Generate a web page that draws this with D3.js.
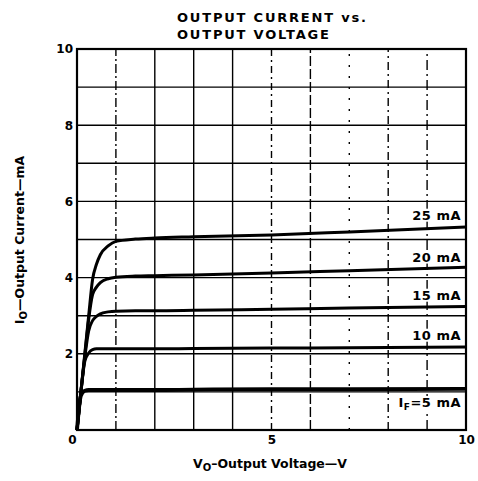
<!DOCTYPE html>
<html>
<head>
<meta charset="utf-8">
<script src="https://cdnjs.cloudflare.com/ajax/libs/d3/7.8.5/d3.min.js"></script>
<style>
  body { margin: 0; background: #fff; }
  svg { display: block; }
  text { font-family: "DejaVu Sans", "Liberation Sans", sans-serif; fill: #000; }
  .grid line { stroke: #000; stroke-width: 1.4px; }
  .curve { fill: none; stroke: #000; stroke-width: 3px; }
  .tick text { font-size: 12px; font-weight: bold; }
</style>
</head>
<body>
<div id="chart"></div>
<script>
// forward current settings (curve labels)
const forwardCurrents = ["25 mA", "20 mA", "15 mA", "10 mA", "5 mA"];

// output voltage sample points (V)
const voltage = [0, 0.1, 0.2, 0.3, 0.4, 0.5, 0.6, 0.8, 1.0, 1.5, 2, 3, 5, 7, 10];

// output current (mA) at the voltages above
const io25 = [0, 1.0, 2.0, 3.0, 3.95, 4.35, 4.6, 4.83, 4.95, 5.01, 5.04, 5.07, 5.12, 5.2, 5.33];
const io20 = [0, 1.0, 1.95, 2.9, 3.55, 3.75, 3.87, 3.97, 4.01, 4.04, 4.05, 4.07, 4.12, 4.18, 4.27];
const io15 = [0, 1.0, 1.9, 2.6, 2.87, 2.98, 3.05, 3.1, 3.12, 3.13, 3.13, 3.14, 3.17, 3.2, 3.24];
const io10 = [0, 0.98, 1.8, 2.02, 2.11, 2.13, 2.13, 2.13, 2.13, 2.13, 2.13, 2.14, 2.15, 2.16, 2.18];
const io5  = [0, 0.9, 1.03, 1.05, 1.05, 1.05, 1.05, 1.05, 1.05, 1.05, 1.05, 1.06, 1.07, 1.07, 1.08];

// where each curve label sits (mA, at the right edge)
const labelAt = [5.52, 4.42, 3.42, 2.37, 0.6];

const xTicks = [0, 5, 10];
const yTicks = [2, 4, 6, 8, 10];
const gridX = [1, 2, 3, 4, 5, 6, 7, 8, 9];
const gridY = [1, 2, 3, 4, 5, 6, 7, 8, 9];

const W = 478, H = 481;
const svg = d3.select('#chart').append('svg').attr('width', W).attr('height', H);

const x = d3.scaleLinear().domain([0, 10]).range([77, 466]);
const y = d3.scaleLinear().domain([0, 10]).range([430, 49]);

// title
const title = svg.append('text')
    .attr('x', 177).attr('y', 22)
    .style('font-size', '13px').style('font-weight', 'bold')
    .style('letter-spacing', '1.8px');
title.append('tspan').attr('x', 177).text('OUTPUT CURRENT vs.');
title.append('tspan').attr('x', 177).attr('dy', 17).text('OUTPUT VOLTAGE');

// grid
const dashFor = {1: '9,3,2,3', 5: '7,4,2,4', 6: '10,3', 7: '2,9', 8: '8,4,2,4', 9: '10,4,2,4'};
const grid = svg.append('g').attr('class', 'grid');
grid.selectAll('line.gx').data(gridX).join('line')
    .attr('class', 'gx')
    .attr('x1', d => x(d)).attr('x2', d => x(d))
    .attr('y1', y(0)).attr('y2', y(10))
    .style('stroke-dasharray', d => dashFor[d] || null);
grid.selectAll('line.gy').data(gridY).join('line')
    .attr('class', 'gy')
    .attr('x1', x(0)).attr('x2', x(10))
    .attr('y1', d => y(d)).attr('y2', d => y(d));

// curves
const series = [io25, io20, io15, io10, io5];
const line = d3.line()
    .x((d, i) => x(voltage[i]))
    .y(d => y(d))
    .curve(d3.curveMonotoneX);
svg.append('g').selectAll('path').data(series).join('path')
    .attr('class', 'curve')
    .attr('d', line)
    .style('stroke-width', (d, i) => i === 4 ? 3.8 : 3);

// curve labels on white patches
const labels = svg.append('g');
forwardCurrents.forEach((lab, i) => {
    const yy = y(labelAt[i]);
    const t = labels.append('text')
        .attr('x', 461).attr('y', yy)
        .attr('text-anchor', 'end')
        .style('font-size', '13px').style('font-weight', 'bold')
        .style('letter-spacing', '0.5px');
    if (i === 4) {
        t.append('tspan').text('I');
        t.append('tspan').attr('dy', 3).style('font-size', '9px').text('F');
        t.append('tspan').attr('dy', -3).text('=5 mA');
    } else {
        t.text(lab);
    }
    const b = t.node().getBBox();
    labels.insert('rect', 'text')
        .attr('x', b.x - 3).attr('y', b.y + 1)
        .attr('width', b.width + 5).attr('height', b.height - 2)
        .attr('fill', '#fff');
});

// frame
svg.append('rect')
    .attr('x', x(0)).attr('y', y(10))
    .attr('width', x(10) - x(0)).attr('height', y(0) - y(10))
    .attr('fill', 'none').attr('stroke', '#000').attr('stroke-width', 2.2);

// axes
const xAxis = svg.append('g')
    .attr('transform', `translate(0,${y(0)})`)
    .call(d3.axisBottom(x).tickValues(xTicks).tickSize(0).tickPadding(5).tickFormat(d3.format('d')));
xAxis.select('.domain').remove();
xAxis.selectAll('.tick').filter(d => d === 0).select('text').attr('dx', -5);

const yAxis = svg.append('g')
    .attr('transform', `translate(${x(0)},0)`)
    .call(d3.axisLeft(y).tickValues(yTicks).tickSize(0).tickPadding(4).tickFormat(d3.format('d')));
yAxis.select('.domain').remove();

// axis titles
const xt = svg.append('text')
    .attr('x', 270).attr('y', 468)
    .attr('text-anchor', 'middle')
    .style('font-size', '12.5px').style('font-weight', 'bold');
xt.append('tspan').text('V');
xt.append('tspan').attr('dy', 3).style('font-size', '10px').text('O');
xt.append('tspan').attr('dy', -3).text('\u2013Output Voltage\u2014V');

const yt = svg.append('text')
    .attr('transform', 'translate(24,240) rotate(-90)')
    .attr('text-anchor', 'middle')
    .style('font-size', '12.5px').style('font-weight', 'bold');
yt.append('tspan').text('I');
yt.append('tspan').attr('dy', 3).style('font-size', '10px').text('O');
yt.append('tspan').attr('dy', -3).text('\u2014Output Current\u2014mA');
</script>
</body>
</html>
